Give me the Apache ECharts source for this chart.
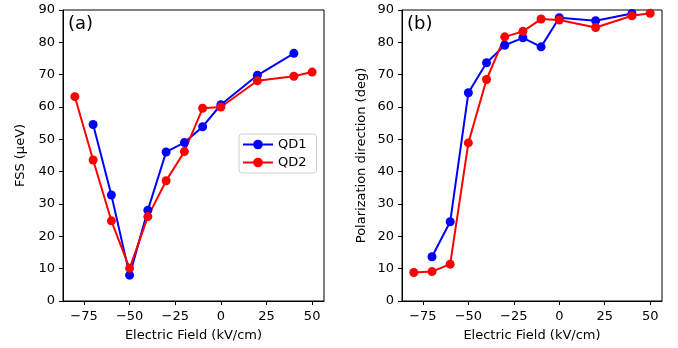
<!DOCTYPE html>
<html>
<head>
<meta charset="utf-8">
<script src="https://cdn.jsdelivr.net/npm/echarts@6/dist/echarts.min.js"></script>
<style>html,body{margin:0;padding:0;background:#fff;}#c{width:678px;height:348px;}</style>
</head>
<body>
<div id="c"></div>
<script>
// Data
const fieldQD1 = [-70, -60, -50, -40, -30, -20, -10, 0, 20, 40];
const fieldQD2 = [-80, -70, -60, -50, -40, -30, -20, -10, 0, 20, 40, 50];
const fssQD1 = [54.6, 32.8, 8.0, 28.1, 46.1, 49.0, 53.9, 60.7, 69.8, 76.6];
const fssQD2 = [63.2, 43.6, 24.8, 10.1, 26.1, 37.2, 46.2, 59.6, 60.0, 68.1, 69.5, 70.8];
const polQD1 = [13.7, 24.5, 64.4, 73.7, 79.1, 81.4, 78.6, 87.6, 86.7, 88.9];
const polQD2 = [8.8, 9.1, 11.4, 48.9, 68.5, 81.7, 83.4, 87.2, 86.9, 84.6, 88.2, 89.0];
const xTicks = [-75, -50, -25, 0, 25, 50];
const seriesNames = ['QD1', 'QD2'];
const panelLabels = ['(a)', '(b)'];
const yNames = ['FSS (\u03bceV)', 'Polarization direction (deg)'];
const xName = 'Electric Field (kV/cm)';

const FONT = 'DejaVu Sans';
const pair = (xs, ys) => xs.map((x, i) => [x, ys[i]]);
const fmt = v => String(v).replace('-', '\u2212');

const grids = [
  {left: 63, top: 10, width: 261, height: 291},
  {left: 402, top: 10, width: 260, height: 291}
];

function xAxis(i) {
  return {
    type: 'value', gridIndex: i, min: -86.5, max: 56.5,
    name: xName, nameLocation: 'middle', nameGap: 28,
    nameTextStyle: {fontFamily: FONT, fontSize: 13, color: '#000'},
    axisLine: {show: true, onZero: false, lineStyle: {color: '#000', width: 1}},
    axisTick: {show: true, inside: false, length: 4, customValues: xTicks, lineStyle: {color: '#000'}},
    axisLabel: {customValues: xTicks, formatter: fmt, margin: 9, fontFamily: FONT, fontSize: 13, color: '#000'},
    splitLine: {show: false}
  };
}
function yAxis(i, gap) {
  return {
    type: 'value', gridIndex: i, min: 0, max: 90, interval: 10,
    name: yNames[i], nameLocation: 'middle', nameGap: gap, nameRotate: 90,
    nameTextStyle: {fontFamily: FONT, fontSize: 13, color: '#000'},
    axisLine: {show: true, onZero: false, lineStyle: {color: '#000', width: 1}},
    axisTick: {show: true, inside: false, length: 4, lineStyle: {color: '#000'}},
    axisLabel: {margin: 8, fontFamily: FONT, fontSize: 13, color: '#000'},
    splitLine: {show: false}
  };
}
function line(name, color, data, gi) {
  return {
    type: 'line', name: name, xAxisIndex: gi, yAxisIndex: gi, data: data,
    symbol: 'circle', symbolSize: 9, showSymbol: true,
    itemStyle: {color: color},
    lineStyle: {color: color, width: 2},
    animation: false, z: 2
  };
}

const chart = echarts.init(document.getElementById('c'), null, {renderer: 'canvas'});
chart.setOption({
  animation: false,
  grid: grids.map(g => Object.assign({show: true, borderColor: '#000', borderWidth: 1, backgroundColor: 'transparent', containLabel: false}, g)),
  xAxis: [xAxis(0), xAxis(1)],
  yAxis: [yAxis(0, 36), yAxis(1, 34)],
  legend: {
    left: 239, top: 134, orient: 'vertical',
    data: seriesNames,
    itemWidth: 30, itemHeight: 12, itemGap: 5,
    padding: [4, 10, 4, 3],
    borderColor: '#d0d0d0', borderWidth: 1, borderRadius: 3,
    textStyle: {fontFamily: FONT, fontSize: 13, color: '#000'}
  },
  graphic: [
    {type: 'text', left: 68, top: 15, style: {text: panelLabels[0], font: '18px "DejaVu Sans"', fill: '#000'}},
    {type: 'text', left: 407, top: 15, style: {text: panelLabels[1], font: '18px "DejaVu Sans"', fill: '#000'}}
  ],
  series: [
    line(seriesNames[0], '#0000ff', pair(fieldQD1, fssQD1), 0),
    line(seriesNames[1], '#ff0000', pair(fieldQD2, fssQD2), 0),
    line(seriesNames[0], '#0000ff', pair(fieldQD1, polQD1), 1),
    line(seriesNames[1], '#ff0000', pair(fieldQD2, polQD2), 1)
  ]
});
</script>
</body>
</html>
